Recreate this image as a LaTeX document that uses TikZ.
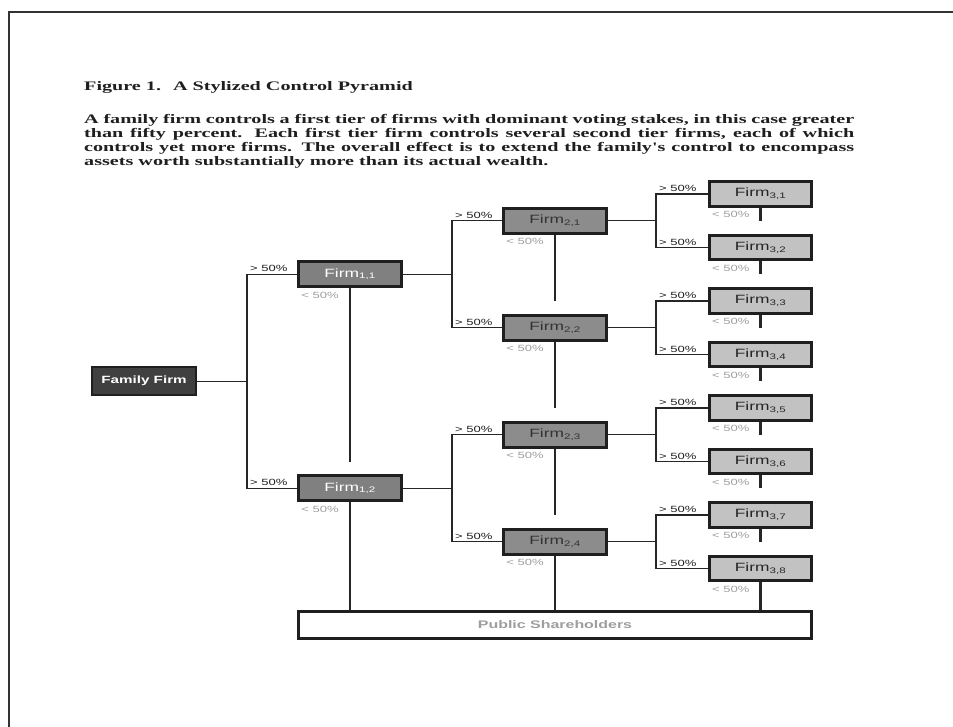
\documentclass[tikz,border=0pt]{standalone}
\usepackage{fontspec}
\newfontfamily\capfont[FakeStretch=1.55]{Liberation Serif}
\newfontfamily\boxfont[FakeStretch=1.45]{Liberation Sans}
\usepackage{tikz}

\begin{document}
\begin{tikzpicture}[x=1pt,y=-1pt,
    firm/.style={draw=black!88, line width=2.6pt, minimum width=103pt, minimum height=25pt,
      inner sep=0pt, font=\boxfont\fontsize{12}{12}\selectfont},
    family/.style={firm, line width=2pt, minimum width=104pt, minimum height=28pt,
      fill=black!75, text=white, font=\boxfont\bfseries\fontsize{10.5}{12}\selectfont},
    tierone/.style={firm, fill=black!50, text=white},
    tiertwo/.style={firm, fill=black!45, text=black!80},
    tierthree/.style={firm, minimum width=102.5pt, minimum height=24.5pt, fill=black!24, text=black!85},
    public/.style={firm, line width=3pt, minimum width=513pt, minimum height=27pt,
      fill=white, text=black!38, font=\boxfont\bfseries\fontsize{11}{12}\selectfont},
    more/.style={anchor=south west, inner sep=0pt, xshift=3pt, yshift=2pt,
      text=black!88, font=\boxfont\fontsize{9}{9}\selectfont},
    less/.style={anchor=north west, inner sep=0pt, xshift=4pt, yshift=-3.5pt,
      text=black!38, font=\boxfont\fontsize{9}{9}\selectfont},
    link/.style={draw=black!85, line width=1.2pt},
    stake/.style={draw=black!85, line width=2.2pt}]

  \useasboundingbox (0,0) rectangle (953,727);
  % page frame
  \draw[line width=1.6pt, black!80] (953,12) -- (9,12) -- (9,727);

  % caption
  \node[anchor=base west, inner sep=0pt, text=black!88, font=\capfont\bfseries\fontsize{13}{14}\selectfont]
    (title) at (84,91) {Figure 1.\hspace{12pt}A Stylized Control Pyramid};
  \node[anchor=north west, inner sep=0pt, text width=770pt, align=justify, text=black!88,
    font=\capfont\bfseries\fontsize{13}{14}\selectfont] (blurb) at (84,114)
    {A family firm controls a first tier of firms with dominant voting stakes, in this case greater\linebreak
     than fifty percent.  Each first tier firm controls several second tier firms,  each of which\linebreak
     controls yet more firms.  The overall effect is to extend the family's control to encompass\linebreak
     assets worth substantially more than its actual wealth.};

  % firms
  \node[family] (fam) at (144,381.25) {Family Firm};
  \foreach \k in {1,2}
    \node[tierone] (f1\k) at (350,{194+(4*\k-2.5)*53.5}) {Firm\textsubscript{1,\k}};
  \foreach \j in {1,...,4}
    \node[tiertwo] (f2\j) at (555,{194+(2*\j-1.5)*53.5}) {Firm\textsubscript{2,\j}};
  \foreach \i in {1,...,8}
    \node[tierthree] (f3\i) at (760.5,{194+(\i-1)*53.5}) {Firm\textsubscript{3,\i}};
  \node[public] (pub) at (555,625) {Public Shareholders};

  % junctions
  \path (fam) ++(103,0) coordinate (j0);
  \foreach \k in {1,2}
    \path (f1\k) ++(102,0) coordinate (j1\k);
  \foreach \j in {1,...,4}
    \path (f2\j) ++(101,0) coordinate (j2\j);

  % controlling stakes
  \draw[link] (fam) -- (j0);
  \foreach \k in {1,2} {
    \draw[link] (j0) |- (f1\k.west);
    \node[more] (gt1\k) at (j0 |- f1\k) {> 50\%};
    \draw[link] (f1\k) -- (j1\k);
  }
  \foreach \j [evaluate=\j as \p using int((\j+1)/2)] in {1,...,4} {
    \draw[link] (j1\p) |- (f2\j.west);
    \node[more] (gt2\j) at (j1\p |- f2\j) {> 50\%};
    \draw[link] (f2\j) -- (j2\j);
  }
  \foreach \i [evaluate=\i as \p using int((\i+1)/2)] in {1,...,8} {
    \draw[link] (j2\p) |- (f3\i.west);
    \node[more] (gt3\i) at (j2\p |- f3\i) {> 50\%};
  }

  % minority stakes
  \foreach \k in {1,2}
    \node[less] (lt1\k) at (f1\k.south west) {< 50\%};
  \foreach \j in {1,...,4}
    \node[less] (lt2\j) at (f2\j.south west) {< 50\%};
  \foreach \i in {1,...,8}
    \node[less] (lt3\i) at (f3\i.south west) {< 50\%};
  \draw[stake, line width=1.4pt] (f11.south) -- ([yshift=12pt]f12.north);
  \draw[stake, line width=1.4pt] (f12.south) -- (f12.south |- pub.north);
  \foreach \j [evaluate=\j as \n using int(\j+1)] in {1,2,3}
    \draw[stake] (f2\j.south) -- ([yshift=13pt]f2\n.north);
  \draw[stake] (f24.south) -- (f24.south |- pub.north);
  \foreach \i [evaluate=\i as \n using int(\i+1)] in {1,...,7}
    \draw[stake] (f3\i.south) -- ([yshift=13pt]f3\n.north);
  \draw[stake] (f38.south) -- (f38.south |- pub.north);
\end{tikzpicture}
\end{document}
